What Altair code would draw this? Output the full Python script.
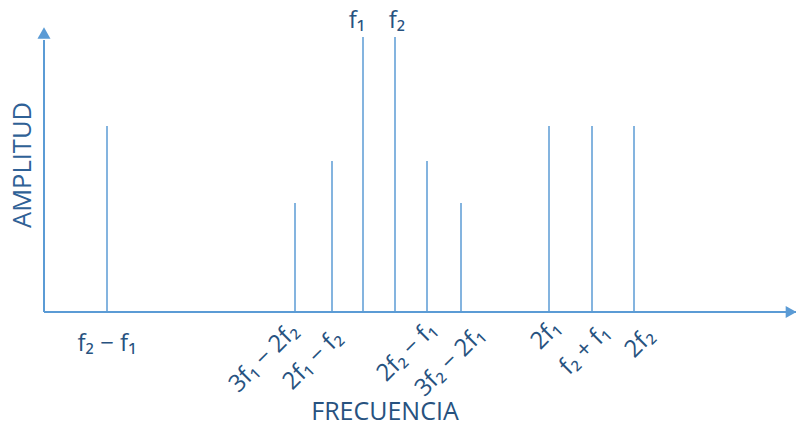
import math
import altair as alt
import pandas as pd

# ---- data ----
labels = ["f₂ − f₁", "3f₁ − 2f₂", "2f₁ − f₂", "f₁", "f₂",
          "2f₂ − f₁", "3f₂ − 2f₁", "2f₁", "f₂ + f₁", "2f₂"]
freq = [63, 251, 288, 319, 351, 383, 417, 505, 548, 590]
amp = [186, 109, 151, 275, 275, 151, 109, 186, 186, 186]

df = pd.DataFrame({"label": labels, "freq": freq, "amp": amp})

LINE = "#5B9BD5"
TEXT = "#27527F"
YTEXT = "#2F6196"
FONT = "Open Sans"

W, H = 788, 415
xs = alt.Scale(domain=[-36, 752], nice=False, zero=False)
ys = alt.Scale(domain=[-111, 304], nice=False, zero=False)

# label layout: screen-space nudges of each label centre relative to its spike
layout = {
    "f₂ − f₁": dict(dx=0, dy=32, angle=0, top=False),
    "3f₁ − 2f₂": dict(dx=-31, dy=46, angle=315, top=False),
    "2f₁ − f₂": dict(dx=-19, dy=48, angle=315, top=False),
    "f₁": dict(dx=-6, dy=-16, angle=0, top=True),
    "f₂": dict(dx=2, dy=-16, angle=0, top=True),
    "2f₂ − f₁": dict(dx=-20, dy=40, angle=315, top=False),
    "3f₂ − 2f₁": dict(dx=-11, dy=50, angle=315, top=False),
    "2f₁": dict(dx=-3, dy=23, angle=315, top=False),
    "f₂ + f₁": dict(dx=-7, dy=38, angle=315, top=False),
    "2f₂": dict(dx=6, dy=31, angle=315, top=False),
}


def unrotate(dx, dy, angle):
    # Vega applies dx/dy in the rotated text frame; convert screen offsets
    a = math.radians(angle)
    c, s = math.cos(a), math.sin(a)
    return dx * c + dy * s, -dx * s + dy * c


base = alt.Chart(df)

spikes = base.mark_rule(color=LINE, strokeWidth=1.5).encode(
    x=alt.X("freq:Q", scale=xs, axis=None),
    y=alt.Y("amp:Q", scale=ys, axis=None),
    y2=alt.datum(0),
)

axes_df = pd.DataFrame({"k": [0]})
yaxis = alt.Chart(axes_df).mark_rule(color=LINE, strokeWidth=2).encode(
    x=alt.datum(0, scale=xs), y=alt.datum(0, scale=ys), y2=alt.datum(272)
)
xaxis = alt.Chart(axes_df).mark_rule(color=LINE, strokeWidth=2).encode(
    x=alt.datum(0, scale=xs), x2=alt.datum(752), y=alt.datum(0, scale=ys)
)
yarrow = alt.Chart(axes_df).mark_point(
    shape="triangle-up", filled=True, color=LINE, size=170, opacity=1
).encode(x=alt.datum(0, scale=xs), y=alt.datum(279, scale=ys))
xarrow = alt.Chart(axes_df).mark_point(
    shape="triangle-right", filled=True, color=LINE, size=150, opacity=1
).encode(x=alt.datum(747, scale=xs), y=alt.datum(0, scale=ys))

layers = [spikes, yaxis, xaxis, yarrow, xarrow]

for lab, o in layout.items():
    ddx, ddy = unrotate(o["dx"], o["dy"], o["angle"])
    t = base.transform_filter(
        alt.FieldEqualPredicate(field="label", equal=lab)
    ).mark_text(
        font=FONT, fontSize=24, color=TEXT, align="center", baseline="middle",
        angle=o["angle"], dx=round(ddx, 1), dy=round(ddy, 1),
    ).encode(
        x=alt.X("freq:Q", scale=xs),
        y=alt.Y("amp:Q", scale=ys) if o["top"] else alt.datum(0, scale=ys),
        text="label:N",
    )
    layers.append(t)

titles_df = pd.DataFrame({"t": ["FRECUENCIA"], "x": [341], "y": [-100]})
xtitle = alt.Chart(titles_df).mark_text(
    font=FONT, fontSize=25, color=TEXT, align="center", baseline="middle"
).encode(x=alt.X("x:Q", scale=xs), y=alt.Y("y:Q", scale=ys), text="t:N")

ytitle_df = pd.DataFrame({"t": ["AMPLITUD"], "x": [-21], "y": [147]})
ytitle = alt.Chart(ytitle_df).mark_text(
    font=FONT, fontSize=25.5, color=YTEXT, align="center", baseline="middle", angle=270
).encode(x=alt.X("x:Q", scale=xs), y=alt.Y("y:Q", scale=ys), text="t:N")

layers += [xtitle, ytitle]

chart = alt.layer(*layers).properties(
    width=W, height=H, padding=0, autosize="none", background="white"
).configure_view(stroke=None)

chart.save("out.html", embed_options={"renderer": "svg", "actions": False})
